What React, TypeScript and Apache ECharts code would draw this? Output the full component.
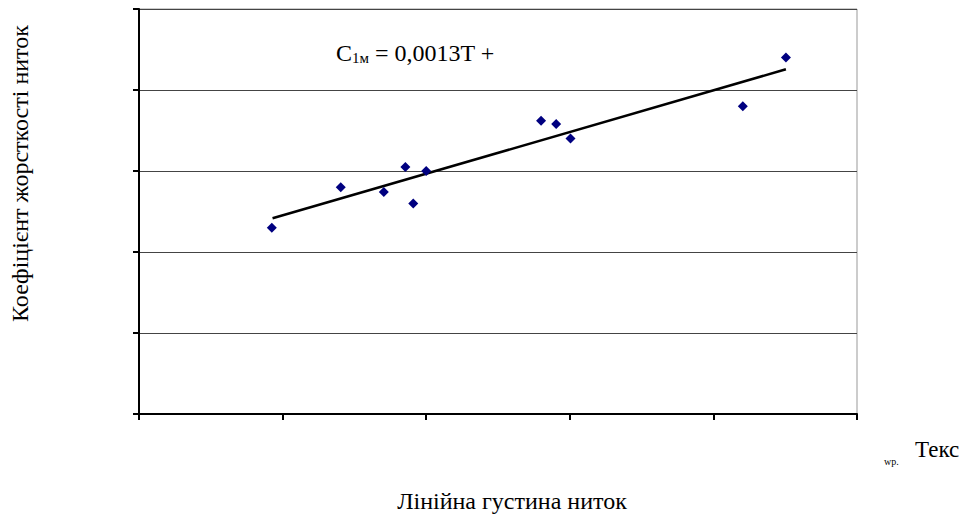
import React, { useEffect, useRef } from "react";
import * as echarts from "echarts";

const xValues = [18.5, 28.1, 34.1, 37.1, 38.2, 40.0, 56.0, 58.1, 60.1, 84.1, 90.1];
const yValues = [0.115, 0.140, 0.137, 0.1525, 0.130, 0.150, 0.181, 0.179, 0.170, 0.190, 0.220];
const trendX = [18.6, 90.1];
const trendY = [0.1208, 0.2128];
const xTitle = "Лінійна густина ниток";
const yTitle = "Коефіцієнт жорсткості ниток";
const unitText = "Текс";
const unitSub = "wp.";

const SERIF = "'Times New Roman', 'Liberation Serif', serif";

export default function App() {
  const ref = useRef<HTMLDivElement>(null);
  useEffect(() => {
    if (!ref.current) return;
    const chart = echarts.init(ref.current, null, { renderer: "svg" });
    chart.setOption({
      animation: false,
      backgroundColor: "#fff",
      grid: {
        left: 139,
        top: 9,
        right: 106,
        bottom: 103,
        show: true,
        borderColor: "#999",
        borderWidth: 1,
        outerBoundsMode: "none",
        containLabel: false,
      },
      xAxis: {
        type: "value",
        min: 0,
        max: 100,
        interval: 20,
        axisLine: { show: true, onZero: false, lineStyle: { color: "#000", width: 2 } },
        axisTick: { show: true, inside: false, length: 6, lineStyle: { color: "#000", width: 2 } },
        axisLabel: { show: false },
        splitLine: { show: false },
      },
      yAxis: {
        type: "value",
        min: 0,
        max: 0.25,
        interval: 0.05,
        axisLine: { show: true, onZero: false, lineStyle: { color: "#000", width: 2 } },
        axisTick: { show: true, inside: false, length: 6, lineStyle: { color: "#000", width: 2 } },
        axisLabel: { show: false },
        splitLine: { show: true, lineStyle: { color: "#444", width: 1 } },
      },
      series: [
        {
          type: "scatter",
          data: xValues.map((x, i) => [x, yValues[i]]),
          symbol: "diamond",
          symbolSize: 10,
          itemStyle: { color: "#000080", opacity: 1 },
          z: 3,
        },
        {
          type: "line",
          data: trendX.map((x, i) => [x, trendY[i]]),
          showSymbol: false,
          symbol: "none",
          lineStyle: { color: "#000", width: 2.5 },
          z: 2,
        },
      ],
      graphic: [
        {
          type: "text",
          x: 336,
          y: 53,
          style: {
            text: "{a|C}{b|1м}{a| = 0,0013T +}",
            verticalAlign: "middle",
            rich: {
              a: { fontFamily: SERIF, fontSize: 24, fill: "#000", verticalAlign: "bottom" },
              b: { fontFamily: SERIF, fontSize: 15, fill: "#000", verticalAlign: "bottom" },
            },
          },
        },
        {
          type: "text",
          x: 20,
          y: 173.5,
          rotation: Math.PI / 2,
          style: {
            text: yTitle,
            fontFamily: SERIF,
            fontSize: 24,
            fill: "#000",
            align: "center",
            verticalAlign: "middle",
          },
        },
        {
          type: "text",
          x: 512,
          y: 501,
          style: {
            text: xTitle,
            fontFamily: SERIF,
            fontSize: 24,
            fill: "#000",
            align: "center",
            verticalAlign: "middle",
          },
        },
        {
          type: "text",
          x: 884,
          y: 461,
          style: { text: unitSub, fontFamily: SERIF, fontSize: 10, fill: "#000", verticalAlign: "middle" },
        },
        {
          type: "text",
          x: 915,
          y: 449,
          style: { text: unitText, fontFamily: SERIF, fontSize: 23, fill: "#000", verticalAlign: "middle" },
        },
      ],
    });
    return () => chart.dispose();
  }, []);
  return <div ref={ref} style={{ width: 963, height: 517, position: "absolute", left: 0, top: 0 }} />;
}
